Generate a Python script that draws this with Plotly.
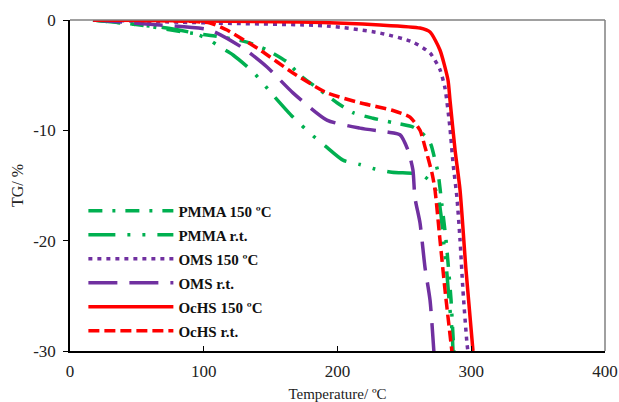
import plotly.graph_objects as go

# Data (Temperature in °C, TG in %)
pmma150_T = [17.2, 52.3, 84.5, 108.4, 132.3, 147.3, 162.2, 172.0, 186.9, 199.6, 211.6, 226.5, 241.5, 256.4, 265.4, 269.9, 272.9, 275.1, 278.1, 281.1, 283.4, 284.9, 286.4, 287.1]
pmma150_TG = [0, -0.45, -1.09, -1.45, -2.0, -2.72, -3.8, -5.0, -6.35, -7.5, -8.4, -8.9, -9.3, -9.7, -10.5, -11.3, -12.7, -13.8, -16.8, -19.9, -23.1, -25.4, -28.7, -30.1]

pmmart_T = [17.2, 52.3, 72.5, 92.0, 103.2, 112.1, 121.9, 136.8, 151.8, 166.7, 181.7, 190.7, 204.1, 216.8, 228.0, 240.7, 256.4, 263.9, 270.7, 275.1, 277.4, 279.6, 281.9, 283.4, 285.6, 286.4]
pmmart_TG = [0, -0.45, -0.73, -1.18, -1.72, -2.45, -3.17, -4.7, -6.8, -8.8, -10.5, -11.4, -12.7, -13.1, -13.5, -13.8, -13.9, -14.1, -14.8, -15.9, -17.7, -20.4, -23.1, -25.4, -28.1, -30.1]

oms150_T = [17.2, 104.7, 192.1, 231.8, 256.4, 269.2, 276.6, 280.4, 284.1, 286.4, 289.3, 291.6, 293.8, 296.8, 297.6]
oms150_TG = [0, -0.27, -0.54, -1.18, -2.0, -3.0, -4.5, -6.2, -9.8, -13.0, -16.1, -19.9, -24.5, -29.3, -30.1]

omsrt_T = [17.2, 67.3, 104.7, 129.3, 147.3, 166.7, 192.1, 216.8, 237.0, 246.7, 252.7, 256.4, 257.9, 261.7, 265.4, 269.2, 272.1]
omsrt_TG = [0, -0.45, -0.91, -2.54, -4.26, -6.6, -9.07, -9.8, -10.15, -10.4, -11.8, -13.6, -16.1, -18.4, -22.4, -25.4, -30.1]

ochs150_T = [18.7, 172.0, 231.8, 261.7, 269.2, 276.6, 282.6, 284.1, 287.9, 291.6, 296.1, 301.3]
ochs150_TG = [0, -0.18, -0.45, -0.73, -1.09, -2.72, -5.44, -7.25, -11.8, -15.4, -22.7, -30.0]

ochsrt_T = [17.2, 82.2, 104.7, 117.4, 142.1, 166.7, 192.1, 216.8, 241.5, 254.2, 261.7, 265.4, 270.7, 272.9, 276.6, 280.4, 285.6]
ochsrt_TG = [0, -0.09, -0.27, -0.91, -2.72, -4.8, -6.6, -7.5, -8.2, -8.8, -10.0, -11.5, -13.9, -15.4, -19.9, -24.5, -30.1]

names = ["PMMA 150 ºC", "PMMA r.t.", "OMS 150 ºC", "OMS r.t.", "OcHS 150 ºC", "OcHS r.t."]

x_tickvals = [0, 100, 200, 300, 400]
x_ticktext = ["0", "100", "200", "300", "400"]
y_tickvals = [0, -10, -20, -30]
y_ticktext = ["0", "-10", "-20", "-30"]

GREEN = "#00B050"
PURPLE = "#7030A0"
RED = "#FF0000"

series = [
    (pmma150_T, pmma150_TG, names[0], GREEN, "14px,10px,3px,10px"),
    (pmmart_T, pmmart_TG, names[1], GREEN, "27px,12px,3px,12px,3px,12px"),
    (oms150_T, oms150_TG, names[2], PURPLE, "4px,5px"),
    (omsrt_T, omsrt_TG, names[3], PURPLE, "29px,12px"),
    (ochs150_T, ochs150_TG, names[4], RED, "solid"),
    (ochsrt_T, ochsrt_TG, names[5], RED, "11px,5px"),
]

fig = go.Figure()
for i, (T, TG, nm, col, dash) in enumerate(series):
    fig.add_trace(go.Scatter(
        x=T, y=TG, name=nm, mode="lines", legendgroup=f"g{i}",
        line=dict(color=col, width=3.5, dash=dash, shape="spline", smoothing=0.6),
    ))

FONT = "Liberation Serif"
fig.update_layout(
    width=619, height=402,
    margin=dict(l=70, r=14, t=20, b=51),
    paper_bgcolor="white", plot_bgcolor="white",
    font=dict(family=FONT, size=16, color="#222"),
    showlegend=True,
    legend=dict(
        x=0.025, y=0.473, xanchor="left", yanchor="top",
        bgcolor="rgba(0,0,0,0)",
        font=dict(family=FONT, size=15, color="#111", weight="bold"),
        itemwidth=85, tracegroupgap=1.5,
    ),
    xaxis=dict(
        range=[0, 400], tickmode="array", tickvals=x_tickvals, ticktext=x_ticktext,
        showgrid=False, zeroline=False, automargin=False,
        showline=True, linecolor="black", linewidth=1.5,
        ticks="inside", ticklen=5, tickcolor="black",
        ticklabelstandoff=4,
        tickfont=dict(family=FONT, size=17),
        title=dict(text="Temperature/ ºC", font=dict(family=FONT, size=15)),
    ),
    yaxis=dict(
        range=[-30, 0], tickmode="array", tickvals=y_tickvals, ticktext=y_ticktext,
        showgrid=False, zeroline=False, automargin=True,
        showline=True, linecolor="black", linewidth=1.5,
        ticks="outside", ticklen=5, tickcolor="black",
        ticklabelstandoff=4,
        tickfont=dict(family=FONT, size=17),
        title=dict(text="TG/ %", font=dict(family=FONT, size=16), standoff=6),
    ),
    shapes=[
        dict(type="line", xref="paper", yref="paper", x0=0, x1=1, y0=1, y1=1,
             line=dict(color="#808080", width=1.5)),
        dict(type="line", xref="paper", yref="paper", x0=1, x1=1, y0=0, y1=1,
             line=dict(color="#808080", width=1.5)),
    ],
)

fig.write_html("out.html")
